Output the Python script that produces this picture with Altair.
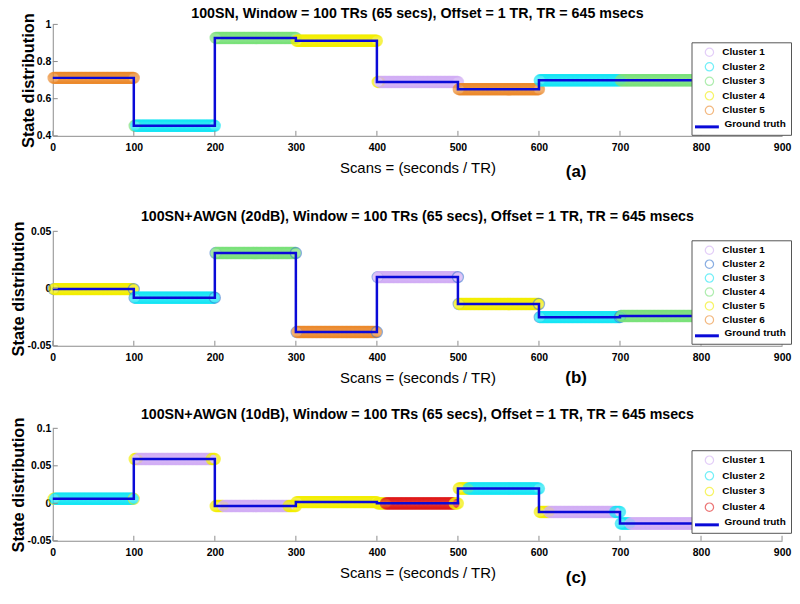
import altair as alt
import pandas as pd

FONT = "Liberation Sans, Arial, sans-serif"
GRAY = "#8c8c8c"
W = 733
TRUTH_COLOR = "#0a0ad8"
ENTRY_H = 14.0
BLANK = "\u2800"

SEG_START = [0, 100, 200, 300, 400, 500, 600, 700]
SEG_END = [100, 200, 300, 400, 500, 600, 700, 800]
X_TICKS = [0, 100, 200, 300, 400, 500, 600, 700, 800, 900]
X_TITLE = "Scans = (seconds / TR)"
Y_TITLE = "State distribution"
GT_NAME = ["Ground truth"]

# ---- panel (a)
A_TITLE = "100SN, Window = 100 TRs (65 secs), Offset = 1 TR, TR = 645 msecs"
A_TRUTH = [0.712, 0.454, 0.927, 0.912, 0.69, 0.651, 0.699, 0.699]
A_SEG_CLUSTER = [5, 2, 3, 4, 1, 5, 2, 3]
A_OV_START = [101, 401]
A_OV_END = [102, 403]
A_OV_CLUSTER = [3, 4]
A_NAMES = ["Cluster 1", "Cluster 2", "Cluster 3", "Cluster 4", "Cluster 5"]
A_COLORS = ["#d2aef5", "#16e6f5", "#7be27b", "#f3ee00", "#ec8a2c"]
A_YTICKS = [0.4, 0.6, 0.8, 1.0]
A_YDOMAIN = [0.4, 1.0]

# ---- panel (b)
B_TITLE = "100SN+AWGN (20dB), Window = 100 TRs (65 secs), Offset = 1 TR, TR = 645 msecs"
B_TRUTH = [-0.0005, -0.008, 0.031, -0.038, 0.010, -0.0135, -0.025, -0.024]
B_SEG_CLUSTER = [5, 3, 4, 6, 1, 5, 3, 4]
B_OV_START = [1, 100, 200, 300, 400, 500, 600, 700]
B_OV_END = [1, 101, 201, 301, 401, 501, 601, 701]
B_OV_CLUSTER = [2, 2, 2, 2, 2, 2, 2, 2]
B_NAMES = ["Cluster 1", "Cluster 2", "Cluster 3", "Cluster 4", "Cluster 5", "Cluster 6"]
B_COLORS = ["#d2aef5", "#3b78d0", "#16e6f5", "#7be27b", "#f3ee00", "#ec8a2c"]
B_YTICKS = [-0.05, 0.0, 0.05]
B_YDOMAIN = [-0.05, 0.05]

# ---- panel (c)
C_TITLE = "100SN+AWGN (10dB), Window = 100 TRs (65 secs), Offset = 1 TR, TR = 645 msecs"
C_TRUTH = [0.006, 0.059, -0.0037, 0.0016, -0.0001, 0.0197, -0.0116, -0.027]
C_SEG_CLUSTER = [2, 1, 1, 3, 4, 2, 1, 1]
C_OV_START = [1, 100, 196, 201, 291, 401, 496, 501, 601, 694, 701]
C_OV_END = [2, 104, 200, 210, 300, 410, 500, 512, 612, 700, 712]
C_OV_CLUSTER = [3, 3, 3, 3, 3, 3, 3, 3, 3, 2, 2]
C_NAMES = ["Cluster 1", "Cluster 2", "Cluster 3", "Cluster 4"]
C_COLORS = ["#d2aef5", "#16e6f5", "#f3ee00", "#e01a1a"]
C_YTICKS = [-0.05, 0.0, 0.05, 0.1]
C_YDOMAIN = [-0.05, 0.1]


def make_points(truth, seg_cluster, ov_s, ov_e, ov_c):
    rows = []
    for scan in range(1, 801):
        k = (scan - 1) // 100
        c = seg_cluster[k]
        for s, e, cc in zip(ov_s, ov_e, ov_c):
            if s <= scan <= e:
                c = cc
        rows.append({"scan": scan, "value": truth[k], "series": f"Cluster {c}"})
    return pd.DataFrame(rows)


def make_line(truth):
    rows = []
    i = 0
    for s, e, v in zip(SEG_START, SEG_END, truth):
        rows.append({"scan": s, "value": v, "idx": i, "series": GT_NAME[0]})
        i += 1
        rows.append({"scan": e, "value": v, "idx": i, "series": GT_NAME[0]})
        i += 1
    return pd.DataFrame(rows)


def panel(title, truth, seg_cluster, ov_s, ov_e, ov_c, names, colors, yticks,
          ydomain, tag, h, legend_y, spacing_row, tag_dy, title_off):
    n = len(names)
    lx = 642
    rp = max(spacing_row - ENTRY_H, 0)
    s_row = ENTRY_H + rp
    # the legend's bottom title is the "Ground truth" entry label
    legend = alt.Legend(
        title=BLANK * 4 + GT_NAME[0], titleOrient="bottom", titleFontSize=10,
        titleFontWeight="bold", titleColor="black", titleFont=FONT,
        titlePadding=rp + 1.5,
        orient="none", legendX=lx, legendY=legend_y,
        fillColor="white", strokeColor="#555555", padding=5,
        labelFont=FONT, labelFontSize=10, labelFontWeight="bold",
        labelColor="black", labelOffset=8, rowPadding=rp,
        symbolType="circle", symbolSize=70, symbolStrokeWidth=1.2,
        symbolOffset=8, symbolOpacity=0.6,
    )
    gt_center = legend_y + 5 + ENTRY_H / 2 + n * s_row
    gt_legend = alt.Legend(
        title=None, orient="none", legendX=lx + 2, legendY=gt_center - 13.5,
        padding=0, labelExpr="''", labelFontSize=10, labelOffset=0,
        symbolType="stroke", symbolSize=576, symbolStrokeWidth=3,
    )
    color_s = alt.Scale(domain=names, range=colors)
    stroke_s = alt.Scale(domain=GT_NAME, range=[TRUTH_COLOR])
    xs = alt.Scale(domain=[0, 900], nice=False, zero=False)
    ys = alt.Scale(domain=ydomain, nice=False, zero=False)
    x_axis = alt.Axis(values=X_TICKS, title=X_TITLE, format="d")
    y_axis = alt.Axis(values=yticks, title=Y_TITLE, format="~g",
                      labelExpr="replace(datum.label, '\u2212', '-')")

    pts = alt.Chart(make_points(truth, seg_cluster, ov_s, ov_e, ov_c)).mark_point(
        filled=False, opacity=0.55, size=125, strokeWidth=1.3
    ).encode(
        x=alt.X("scan:Q", scale=xs, axis=x_axis),
        y=alt.Y("value:Q", scale=ys, axis=y_axis),
        color=alt.Color("series:N", scale=color_s, legend=legend),
    )
    line = alt.Chart(make_line(truth)).mark_line(strokeWidth=2.5).encode(
        x=alt.X("scan:Q", scale=xs, axis=x_axis),
        y=alt.Y("value:Q", scale=ys, axis=y_axis),
        stroke=alt.Stroke("series:N", scale=stroke_s, legend=gt_legend),
        order="idx:Q",
    )
    xt = alt.Chart(pd.DataFrame({"scan": X_TICKS})).mark_rule(
        color=GRAY, strokeWidth=1
    ).encode(
        x=alt.X("scan:Q", scale=xs, axis=x_axis),
        y=alt.value(h), y2=alt.value(h - 5),
    )
    yt = alt.Chart(pd.DataFrame({"value": yticks})).mark_rule(
        color=GRAY, strokeWidth=1
    ).encode(
        y=alt.Y("value:Q", scale=ys, axis=y_axis),
        x=alt.value(0), x2=alt.value(5),
    )
    lab = alt.Chart(pd.DataFrame({"t": [tag]})).mark_text(
        font=FONT, fontSize=17, fontWeight="bold", color="black", baseline="middle"
    ).encode(x=alt.value(526), y=alt.value(h + tag_dy), text="t:N")

    return alt.layer(pts, line, xt, yt, lab).properties(
        width=W, height=h,
        title=alt.TitleParams(title, font=FONT, fontSize=14.3, fontWeight="bold",
                              color="black", offset=title_off, anchor="middle"),
    )


pa = panel(A_TITLE, A_TRUTH, A_SEG_CLUSTER, A_OV_START, A_OV_END, A_OV_CLUSTER,
           A_NAMES, A_COLORS, A_YTICKS, A_YDOMAIN, "(a)", 112, 18, 14.6, 36, -9)
pb = panel(B_TITLE, B_TRUTH, B_SEG_CLUSTER, B_OV_START, B_OV_END, B_OV_CLUSTER,
           B_NAMES, B_COLORS, B_YTICKS, B_YDOMAIN, "(b)", 115, 9, 13.3, 32, -3)
pc = panel(C_TITLE, C_TRUTH, C_SEG_CLUSTER, C_OV_START, C_OV_END, C_OV_CLUSTER,
           C_NAMES, C_COLORS, C_YTICKS, C_YDOMAIN, "(c)", 113, 22, 15.75, 37, -5)

RES = dict(x="independent", y="independent", color="independent",
           stroke="independent")
top2 = alt.vconcat(pa, pb, spacing=30).resolve_scale(**RES)
chart = alt.vconcat(top2, pc, spacing=22).resolve_scale(**RES).properties(
    padding={"left": 3, "top": -3, "right": 0, "bottom": 0}
).configure_view(stroke=None).configure_axis(
    domainColor=GRAY, ticks=False, grid=False,
    labelFont=FONT, labelFontSize=10.5, labelFontWeight="bold", labelColor="black",
    titleFont=FONT, titleColor="black",
).configure_axisX(
    labelPadding=7, titlePadding=7, titleFontSize=15, titleFontWeight="normal",
    labelFlush=False,
).configure_axisY(
    labelPadding=2, titlePadding=0, titleFontSize=16.5, titleFontWeight="bold",
)

chart.save("out.html", embed_options={"renderer": "svg", "actions": False})
